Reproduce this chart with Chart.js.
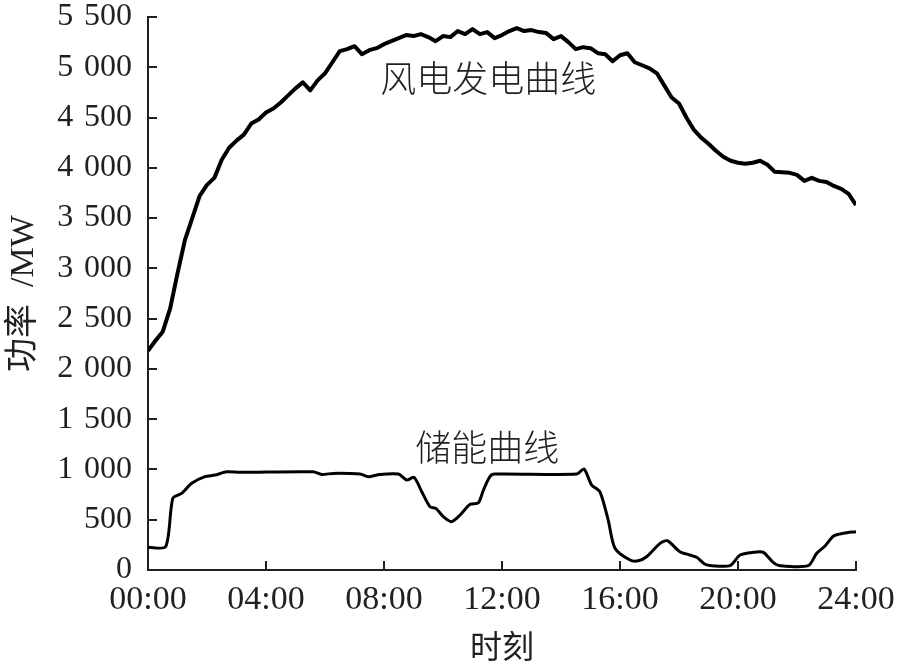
<!DOCTYPE html>
<html>
<head>
<meta charset="utf-8">
<script src="https://cdn.jsdelivr.net/npm/chart.js@4"></script>
<style>
  body { margin: 0; background: #fff; }
  canvas { display: block; }
</style>
</head>
<body>
<canvas id="myChart" width="900" height="667"></canvas>
<script>
// 风电发电曲线, every 15 min
const windHours = [];
for (let i = 0; i <= 96; i++) windHours.push(i / 4);
const windMW = [
  2180, 2280, 2370, 2600, 2950, 3280, 3500, 3720, 3830, 3900, 4080, 4200,
  4270, 4330, 4440, 4480, 4550, 4590, 4650, 4720, 4790, 4850, 4770, 4870,
  4940, 5050, 5160, 5180, 5210, 5130, 5170, 5190, 5230, 5260, 5290, 5320,
  5310, 5330, 5300, 5260, 5310, 5300, 5360, 5330, 5380, 5330, 5350, 5290,
  5320, 5360, 5390, 5360, 5370, 5350, 5340, 5280, 5310, 5250, 5180, 5200,
  5190, 5140, 5130, 5060, 5120, 5140, 5050, 5020, 4990, 4940, 4820, 4700,
  4640, 4500, 4380, 4300, 4240, 4170, 4110, 4070, 4050, 4040, 4050, 4070,
  4030, 3960, 3955, 3950, 3930, 3870, 3900, 3870, 3860, 3820, 3790, 3740,
  3630
];

// 储能曲线
const storageHours = [
  0, 0.6, 0.84, 1.14, 1.48, 1.93, 2.27, 2.67, 3.12, 5.6, 5.89, 6.28, 7.19, 7.47,
  7.86, 8.49, 8.77, 9.02, 9.28, 9.56, 9.76, 10.01, 10.29, 10.58, 10.92, 11.2,
  11.37, 11.59, 11.75, 14.53, 14.78, 15.04, 15.32, 15.6, 15.83, 16.34, 16.62,
  16.9, 17.36, 17.6, 18.03, 18.37, 18.6, 18.88, 19.11, 19.73, 20.07, 20.52,
  20.86, 21.2, 21.42, 22.38, 22.67, 22.95, 23.24, 23.58, 24
];
const storageMW = [
  226, 232, 713, 762, 862, 928, 944, 977, 971, 977, 951, 961, 954, 928,
  951, 954, 895, 921, 778, 629, 613, 530, 480, 547, 653, 669,
  795, 928, 954, 954, 1004, 845, 778, 497, 216, 99, 92,
  132, 265, 291, 182, 149, 126, 57, 43, 43, 149, 176,
  176, 73, 43, 43, 166, 239, 338, 365, 381
];

const xTicks = [0, 4, 8, 12, 16, 20, 24];
const yTicks = [0, 500, 1000, 1500, 2000, 2500, 3000, 3500, 4000, 4500, 5000, 5500];

const curveLabels = [
  { text: '风电发电曲线', x: 11.53, y: 4890 },
  { text: '储能曲线', x: 11.5, y: 1223 }
];

const ink = '#231f20';
const serif = "'Liberation Serif', 'Noto Sans CJK SC', serif";

function fmtThousands(v) {
  if (v < 1000) return String(v);
  const s = String(v);
  return s.slice(0, s.length - 3) + '\u2004' + s.slice(-3);
}

const innerTicks = {
  id: 'innerTicks',
  afterDraw(chart) {
    const { ctx, chartArea, scales } = chart;
    ctx.save();
    ctx.strokeStyle = ink;
    ctx.lineWidth = 2;
    ctx.beginPath();
    yTicks.forEach(v => {
      if (v === 0) return;
      const y = Math.round(scales.y.getPixelForValue(v));
      ctx.moveTo(chartArea.left, y);
      ctx.lineTo(chartArea.left + 9, y);
    });
    xTicks.forEach(v => {
      if (v === 0) return;
      const x = Math.round(scales.x.getPixelForValue(v));
      ctx.moveTo(x, chartArea.bottom);
      ctx.lineTo(x, chartArea.bottom - 9);
    });
    ctx.stroke();

    ctx.fillStyle = ink;
    ctx.font = "300 36px 'Noto Sans CJK SC'";
    ctx.textAlign = 'center';
    ctx.textBaseline = 'middle';
    curveLabels.forEach(l => {
      ctx.fillText(l.text, scales.x.getPixelForValue(l.x), scales.y.getPixelForValue(l.y));
    });
    ctx.restore();
  }
};

const ctx = document.getElementById('myChart').getContext('2d');
new Chart(ctx, {
  type: 'line',
  data: {
    datasets: [
      {
        label: '风电发电曲线',
        data: windHours.map((h, i) => ({ x: h, y: windMW[i] })),
        borderColor: '#000',
        borderWidth: 4,
        borderJoinStyle: 'round',
        pointRadius: 0,
        tension: 0,
        fill: false
      },
      {
        label: '储能曲线',
        data: storageHours.map((h, i) => ({ x: h, y: storageMW[i] })),
        borderColor: '#000',
        borderWidth: 3,
        borderJoinStyle: 'round',
        pointRadius: 0,
        tension: 0.25,
        fill: false
      }
    ]
  },
  options: {
    responsive: false,
    devicePixelRatio: 1,
    animation: false,
    layout: { padding: { top: 17, right: 44, left: 0, bottom: 0 } },
    plugins: { legend: { display: false }, tooltip: { enabled: false } },
    scales: {
      x: {
        type: 'linear',
        min: 0,
        max: 24,
        afterFit(scale) {
          scale.height = 97;
          scale.paddingLeft = 0;
          scale.paddingRight = 0;
        },
        afterBuildTicks(scale) { scale.ticks = xTicks.map(v => ({ value: v })); },
        grid: { display: true, drawOnChartArea: false, drawTicks: false },
        border: { display: true, color: ink, width: 2 },
        ticks: {
          color: ink,
          font: { family: serif, size: 34 },
          padding: 10,
          maxRotation: 0,
          autoSkip: false,
          callback: v => String(v).padStart(2, '0') + ':00'
        },
        title: {
          display: true,
          text: '时刻',
          color: ink,
          font: { family: serif, size: 32, lineHeight: 1 },
          padding: { top: 0, bottom: 1 }
        }
      },
      y: {
        min: 0,
        max: 5500,
        afterFit(scale) {
          scale.width = 148;
          scale.paddingTop = 0;
          scale.paddingBottom = 0;
        },
        afterBuildTicks(scale) { scale.ticks = yTicks.map(v => ({ value: v })); },
        grid: { display: true, drawOnChartArea: false, drawTicks: false },
        border: { display: true, color: ink, width: 2 },
        ticks: {
          color: ink,
          font: { family: serif, size: 32, lineHeight: 1 },
          padding: 16,
          autoSkip: false,
          callback: v => fmtThousands(v)
        },
        title: {
          display: true,
          text: '功率\u2002/MW',
          color: ink,
          font: { family: serif, size: 34, lineHeight: 1 },
          padding: { top: 7, bottom: 0 }
        }
      }
    }
  },
  plugins: [innerTicks]
});
</script>
</body>
</html>
